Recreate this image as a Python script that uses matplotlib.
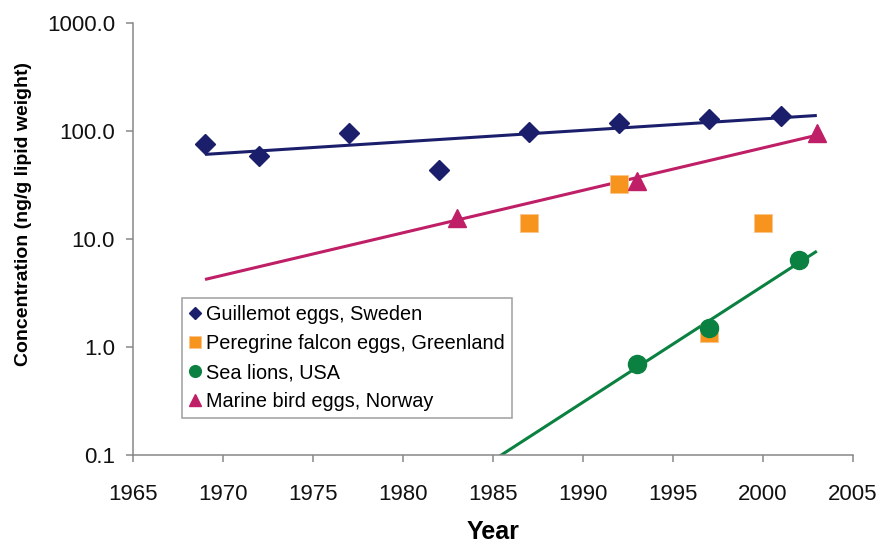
import numpy as np
import matplotlib
matplotlib.use("Agg")
import matplotlib.pyplot as plt
from matplotlib.ticker import FixedLocator, FuncFormatter, NullLocator

plt.rcParams['font.family'] = ['Liberation Sans', 'DejaVu Sans']

# Concentrations (ng/g lipid weight) by sampling year
guillemot_years = [1969, 1972, 1977, 1982, 1987, 1992, 1997, 2001]
guillemot_vals = [76, 58, 96, 43, 98, 119, 127, 138]

falcon_years = [1987, 1992, 1997, 2000]
falcon_vals = [14.0, 31.8, 1.35, 14.0]

sealion_years = [1993, 1997, 2002]
sealion_vals = [0.70, 1.50, 6.4]

marine_years = [1983, 1993, 2003]
marine_vals = [15.5, 34.0, 94.5]

trend_span = [1969, 2003]

x_ticks = [1965, 1970, 1975, 1980, 1985, 1990, 1995, 2000, 2005]
y_ticks = [0.1, 1.0, 10.0, 100.0, 1000.0]

navy = '#1b1f6b'
orange = '#f7941d'
green = '#0a8140'
magenta = '#bf1f66'
axis_grey = '#878787'

fig = plt.figure(figsize=(8.81, 5.39), dpi=100)
ax = fig.add_axes([0.151, 0.156, 0.817, 0.802])


def exp_trend(years, vals):
    # exponential trendline: straight fit of log10(value) against year
    slope, icpt = np.polyfit(years, np.log10(vals), 1)
    xs = np.array(trend_span, dtype=float)
    return xs, 10 ** (slope * xs + icpt)


for yrs, vals, col in [(guillemot_years, guillemot_vals, navy),
                       (marine_years, marine_vals, magenta),
                       (sealion_years, sealion_vals, green)]:
    tx, ty = exp_trend(yrs, vals)
    ax.plot(tx, ty, color=col, lw=2.2, zorder=2, solid_capstyle='butt')

ax.plot(guillemot_years, guillemot_vals, ls='none', marker='D', ms=10,
        color=navy, mec=navy, label='Guillemot eggs, Sweden', zorder=3)
ax.plot(falcon_years, falcon_vals, ls='none', marker='s', ms=12.5,
        color=orange, mec='#fbc58a', mew=0.6,
        label='Peregrine falcon eggs, Greenland', zorder=3)
ax.plot(sealion_years, sealion_vals, ls='none', marker='o', ms=13,
        color=green, mec=green, label='Sea lions, USA', zorder=3)
ax.plot(marine_years, marine_vals, ls='none', marker='^', ms=13,
        color=magenta, mec=magenta, label='Marine bird eggs, Norway', zorder=3)

ax.set_yscale('log')
ax.set_xlim(1965, 2005)
ax.set_ylim(0.1, 1000)
ax.xaxis.set_major_locator(FixedLocator(x_ticks))
ax.yaxis.set_major_locator(FixedLocator(y_ticks))
ax.yaxis.set_minor_locator(NullLocator())
ax.yaxis.set_major_formatter(FuncFormatter(lambda v, p: f'{v:.1f}'))

for side in ['top', 'right']:
    ax.spines[side].set_visible(False)
for side in ['left', 'bottom']:
    ax.spines[side].set_color(axis_grey)
    ax.spines[side].set_linewidth(1.1)

ax.tick_params(axis='both', which='major', direction='out', length=5,
               width=1.1, color=axis_grey, labelsize=16, labelcolor='#111111')
ax.tick_params(axis='y', pad=8)
ax.tick_params(axis='x', pad=16)

ax.set_xlabel('Year', fontsize=18, fontweight='bold', labelpad=11)
ax.set_ylabel('Concentration (ng/g lipid weight)', fontsize=14,
              fontweight='bold')
ax.yaxis.set_label_coords(-0.14, 0.558)

leg = ax.legend(loc='lower left', bbox_to_anchor=(0.068, 0.0855),
                borderaxespad=0, fontsize=14.3, frameon=True, fancybox=False,
                edgecolor=axis_grey, handlelength=0.6, handletextpad=0.25,
                labelspacing=0.5, borderpad=0.35, markerscale=0.65)
leg.get_frame().set_linewidth(1.1)

fig.savefig('out.png', dpi=100, facecolor='white')
